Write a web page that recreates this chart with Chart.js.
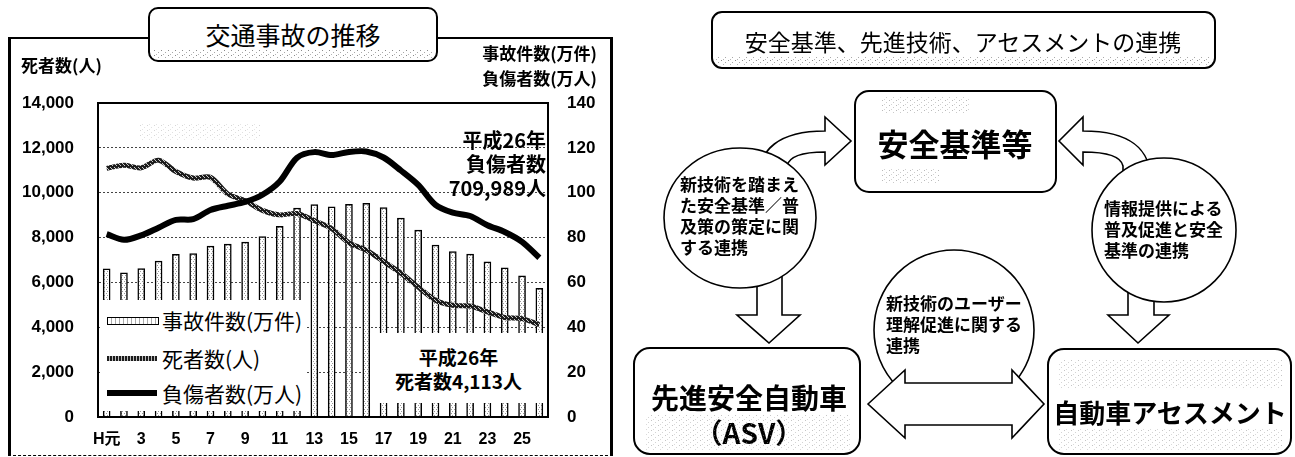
<!DOCTYPE html>
<html lang="ja">
<head>
<meta charset="utf-8">
<title>交通事故の推移／安全基準、先進技術、アセスメントの連携</title>
<script src="https://cdn.jsdelivr.net/npm/chart.js@4.4.1/dist/chart.umd.min.js"></script>
<style>
  html, body { margin:0; padding:0; background:#fff; }
  body { position:relative; width:1295px; height:457px; overflow:hidden;
         font-family:"Noto Sans CJK JP","Noto Sans",sans-serif; color:#000; }
  .abs { position:absolute; }
  #frame { left:8px; top:37px; width:605px; height:419px; box-sizing:border-box;
           border-left:3px solid #000; border-top:2px solid #000; border-right:3px solid #000;
           border-bottom:1px dashed #000; }
  #chartBox { left:0; top:0; width:620px; height:457px; }
  #title1 { left:148px; top:7px; width:290px; height:55px; box-sizing:border-box;
            border:2px solid #000; border-radius:10px; background:#fff;
            font-size:25px; line-height:50px; text-align:center; }
  .axTitle { font-size:17px; font-weight:bold; line-height:22px; white-space:nowrap; }
  #legend { left:100px; top:300px; width:205px; height:111px; background:#fff; }
  .lgRow { position:absolute; left:0; width:205px; height:30px; }
  .lgSym { position:absolute; left:7px; width:50px; }
  .lgTxt { position:absolute; left:62px; top:0; font-size:21px; line-height:30px; white-space:nowrap; }
  #noteTop { left:420px; top:128px; width:126px; text-align:right; font-size:20px; font-weight:bold; line-height:24px; }
  #noteBottom { left:370px; top:333px; width:177px; height:70px; background:#fff;
                text-align:center; font-size:19px; font-weight:bold; line-height:24px;
                box-sizing:border-box; padding-top:12px; }
  #diagram, #grain { left:0; top:0; pointer-events:none; }
</style>
</head>
<body>
<div id="frame" class="abs"></div>
<div id="chartBox" class="abs"><canvas id="c" width="620" height="457"></canvas></div>
<div id="title1" class="abs">交通事故の推移</div>
<div class="abs axTitle" style="left:21px;top:54px;">死者数(人)</div>
<div class="abs axTitle" style="left:440px;top:42px;width:157px;text-align:right;">事故件数(万件)</div>
<div class="abs axTitle" style="left:440px;top:67px;width:157px;text-align:right;">負傷者数(万人)</div>
<div id="legend" class="abs"></div>
<div id="noteTop" class="abs">平成26年<br>負傷者数<br>709,989人</div>
<div id="noteBottom" class="abs">平成26年<br>死者数4,113人</div>

<svg id="diagram" class="abs" width="1295" height="457" xmlns="http://www.w3.org/2000/svg"
     font-family="Noto Sans CJK JP, Noto Sans, sans-serif">
  <g fill="#fff" stroke="#000" stroke-width="2">
    <!-- heading -->
    <rect x="712" y="12" width="503" height="56" rx="10"/>
    <!-- curved arrows into the standards box -->
    <path stroke-width="1.6" d="M759 178 C759 150 778 131 825 131 L825 117 L851 141 L825 165 L825 152 C805 152 789 156 787 166 L787 182 Z"/>
    <path stroke-width="1.6" d="M1151 182 C1151 150 1132 131 1083 131 L1083 117 L1059 141 L1083 165 L1083 152 C1105 152 1121 156 1123 166 L1123 186 Z"/>
    <!-- downward arrows -->
    <path stroke-width="1.6" d="M757 265 L757 315 L737 315 L769 343 L800 315 L782 315 L782 265 Z"/>
    <path stroke-width="1.6" d="M1128 275 L1128 315 L1108 315 L1138 343 L1169 315 L1154 315 L1154 275 Z"/>
    <!-- boxes -->
    <rect x="855" y="91" width="201" height="101" rx="14"/>
    <rect x="634" y="348" width="226" height="106" rx="16"/>
    <rect x="1048" y="349" width="243" height="105" rx="16"/>
    <!-- circles -->
    <ellipse stroke-width="1.6" cx="740" cy="218" rx="76" ry="70"/>
    <ellipse stroke-width="1.6" cx="1164" cy="230" rx="72" ry="72"/>
    <ellipse stroke-width="1.6" cx="954" cy="330" rx="80" ry="80"/>
    <!-- two-way arrow -->
    <path stroke-width="1.6" d="M868 404 L905 370 L905 383 L1012 383 L1012 370 L1044 404 L1012 438 L1012 425 L905 425 L905 438 Z"/>
  </g>
  <g fill="#000">
    <text x="963" y="41" font-size="23" text-anchor="middle" dominant-baseline="central">安全基準、先進技術、アセスメントの連携</text>
    <text x="955" y="142" font-size="31" font-weight="bold" text-anchor="middle" dominant-baseline="central">安全基準等</text>
    <text x="749" y="397" font-size="28" font-weight="bold" text-anchor="middle" dominant-baseline="central">先進安全自動車</text>
    <text x="749" y="432" font-size="28" font-weight="bold" text-anchor="middle" dominant-baseline="central">（ASV）</text>
    <text x="1170" y="411" font-size="26" font-weight="bold" text-anchor="middle" dominant-baseline="central">自動車アセスメント</text>
    <g font-size="17" font-weight="bold" dominant-baseline="central">
      <text x="680" y="183">新技術を踏まえ</text>
      <text x="680" y="204">た安全基準／普</text>
      <text x="680" y="225">及策の策定に関</text>
      <text x="680" y="246">する連携</text>
      <text x="1104" y="207">情報提供による</text>
      <text x="1104" y="228">普及促進と安全</text>
      <text x="1104" y="249">基準の連携</text>
      <text x="886" y="302">新技術のユーザー</text>
      <text x="886" y="323">理解促進に関する</text>
      <text x="886" y="344">連携</text>
    </g>
  </g>
</svg>

<!-- halftone grain inside the heading boxes and panels -->
<svg id="grain" class="abs" width="1295" height="457" xmlns="http://www.w3.org/2000/svg">
  <defs>
    <pattern id="stip" width="7" height="5" patternUnits="userSpaceOnUse">
      <rect x="0" y="0" width="1" height="1" fill="#8a8a8a"/>
      <rect x="4" y="2" width="1" height="1" fill="#a8a8a8"/>
      <rect x="2" y="4" width="1" height="1" fill="#b5b5b5"/>
    </pattern>
  </defs>
  <g fill="url(#stip)">
    <rect x="152" y="50" width="282" height="9"/>
    <rect x="716" y="57" width="495" height="8"/>
    <rect x="880" y="96" width="90" height="18" opacity="0.6"/>
    <rect x="880" y="168" width="60" height="16" opacity="0.6"/>
    <rect x="645" y="415" width="205" height="35" opacity="0.5"/>
    <rect x="1058" y="360" width="225" height="28" opacity="0.5"/>
    <rect x="1058" y="428" width="225" height="22" opacity="0.5"/>
    <rect x="140" y="124" width="120" height="16" opacity="0.35"/>
  </g>
</svg>

<script>
// 年（平成）
const years = ['H元','2','3','4','5','6','7','8','9','10','11','12','13',
               '14','15','16','17','18','19','20','21','22','23','24','25','26'];
// 事故件数（万件）
const accidents = [66.1,64.3,66.2,69.5,72.5,72.9,76.2,77.1,78.0,80.4,85.0,93.2,94.7,
                   93.7,94.8,95.3,93.4,88.7,83.3,76.6,73.8,72.6,69.2,66.5,62.9,57.4];
// 死者数（人）
const deaths = [11086,11227,11109,11452,10945,10653,10684,9943,9642,9214,9012,9073,8757,
                8396,7768,7436,6937,6415,5796,5209,4979,4948,4691,4438,4388,4113];
// 負傷者数（万人）
const injured = [81.5,79.0,81.0,84.4,87.9,88.2,92.3,94.2,95.9,99.1,105.0,115.6,118.1,
                 116.8,118.2,118.4,115.7,109.9,103.5,94.6,91.1,89.6,85.5,82.5,78.1,71.0];
const seriesLabels = ['事故件数(万件)', '死者数(人)', '負傷者数(万人)'];
// 目盛り
const deathTicks = [0, 2000, 4000, 6000, 8000, 10000, 12000, 14000];
const countTicks = [0, 20, 40, 60, 80, 100, 120, 140];

const canvas = document.getElementById('c');
const ctx = canvas.getContext('2d');

function makePattern(w, h, base, dots, dotColor) {
  const t = document.createElement('canvas');
  t.width = w; t.height = h;
  const g = t.getContext('2d');
  g.fillStyle = base; g.fillRect(0, 0, w, h);
  g.fillStyle = dotColor;
  dots.forEach(([x, y]) => g.fillRect(x, y, 1, 1));
  return ctx.createPattern(t, 'repeat');
}
const barFill = makePattern(3, 4, '#ffffff', [[1, 1], [2, 3]], '#9a9a9a');
const deathStroke = makePattern(4, 4, '#1c1c1c', [[0, 1], [2, 3], [3, 0]], '#c8c8c8');

const tickFont = { family: "'Liberation Sans', Arial, 'Noto Sans CJK JP', sans-serif", size: 17, weight: 'bold' };

const plotFrame = {
  id: 'plotFrame',
  afterDatasetsDraw(chart) {
    const a = chart.chartArea, g = chart.ctx;
    g.save();
    g.strokeStyle = '#000';
    g.lineWidth = 2;
    g.strokeRect(a.left, a.top, a.right - a.left, a.bottom - a.top);
    g.restore();
  }
};

new Chart(ctx, {
  data: {
    labels: years,
    datasets: [
      { type: 'bar', label: seriesLabels[0], data: accidents, yAxisID: 'yCount', order: 3,
        backgroundColor: barFill, borderColor: '#000', borderWidth: 1.5, barThickness: 7 },
      { type: 'line', label: seriesLabels[1], data: deaths, yAxisID: 'yDeaths', order: 2,
        borderColor: deathStroke, borderWidth: 5, pointRadius: 0, tension: 0.3, fill: false },
      { type: 'line', label: seriesLabels[2], data: injured, yAxisID: 'yCount', order: 1,
        borderColor: '#000', borderWidth: 6, pointRadius: 0, tension: 0.3, fill: false }
    ]
  },
  options: {
    responsive: false,
    animation: false,
    devicePixelRatio: 1,
    layout: { padding: { left: 10, right: 12, top: 103, bottom: 10 } },
    plugins: { legend: { display: false }, tooltip: { enabled: false } },
    scales: {
      x: {
        grid: { display: false, drawTicks: false },
        border: { display: true, color: '#000', width: 2 },
        ticks: { autoSkip: false, maxRotation: 0, padding: 13, color: '#000',
                 font: Object.assign({}, tickFont, { size: 16 }),
                 callback: (v, i) => (i % 2 === 0 ? years[i] : '') },
        afterFit: s => { s.height = 30; }
      },
      yDeaths: {
        position: 'left',
        min: deathTicks[0], max: deathTicks[deathTicks.length - 1],
        afterBuildTicks: s => { s.ticks = deathTicks.map(v => ({ value: v })); },
        grid: { drawTicks: false, lineWidth: 1,
                color: c => (c.tick && (c.tick.value === 0 || c.tick.value === 14000)) ? 'rgba(0,0,0,0)' : '#444' },
        border: { display: true, color: '#000', width: 2, dash: [2, 2] },
        ticks: { padding: 24, color: '#000', font: tickFont,
                 callback: v => v.toLocaleString('en-US') },
        afterFit: s => { s.width = 88; }
      },
      yCount: {
        position: 'right',
        min: countTicks[0], max: countTicks[countTicks.length - 1],
        afterBuildTicks: s => { s.ticks = countTicks.map(v => ({ value: v })); },
        grid: { display: false, drawTicks: false },
        border: { display: true, color: '#000', width: 2 },
        ticks: { padding: 19, color: '#000', font: tickFont },
        afterFit: s => { s.width = 60; }
      }
    }
  },
  plugins: [plotFrame]
});

// 凡例
const legend = document.getElementById('legend');
const rows = [
  { top: 5, sym: 'top:12px;height:6px;border:1.5px solid #000;background:repeating-linear-gradient(90deg,#fff 0 3px,#aaa 3px 4px);' },
  { top: 43, sym: 'top:13px;height:5px;background:repeating-linear-gradient(90deg,#1c1c1c 0 2px,#bbb 2px 3px);' },
  { top: 78, sym: 'top:12px;height:6px;background:#000;' }
];
rows.forEach((r, i) => {
  const row = document.createElement('div');
  row.className = 'lgRow';
  row.style.top = r.top + 'px';
  row.innerHTML = '<div class="lgSym" style="' + r.sym + '"></div><div class="lgTxt">' + seriesLabels[i] + '</div>';
  legend.appendChild(row);
});
</script>
</body>
</html>
